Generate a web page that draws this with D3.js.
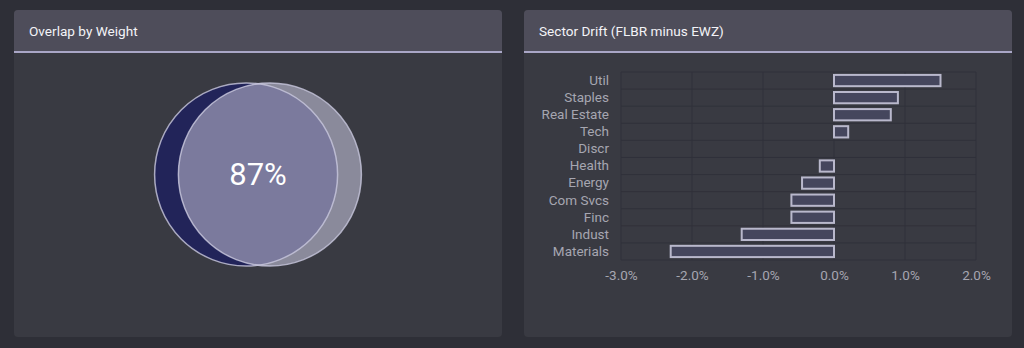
<!DOCTYPE html>
<html>
<head>
<meta charset="utf-8">
<script src="https://cdn.jsdelivr.net/npm/d3@7"></script>
<style>
  html, body { margin: 0; padding: 0; background: #2e2f37; }
  svg { display: block; font-family: Roboto, "Noto Sans", sans-serif; }
</style>
</head>
<body>
<svg id="chart" width="1024" height="348"></svg>
<script>
// panel titles
const titles = ['Overlap by Weight', 'Sector Drift (FLBR minus EWZ)'];

// venn
const overlapShare = [0.87];

// sector drift
const sectors = ['Util', 'Staples', 'Real Estate', 'Tech', 'Discr', 'Health',
  'Energy', 'Com Svcs', 'Finc', 'Indust', 'Materials'];
const drift = [1.5, 0.9, 0.8, 0.2, 0, -0.2, -0.45, -0.6, -0.6, -1.3, -2.3];
const driftTicks = [-3, -2, -1, 0, 1, 2];

const svg = d3.select('#chart');

// panels
const panelX = d3.scaleBand().domain(titles).range([14, 1012]).paddingInner(22 / 510).paddingOuter(0);
const panelW = panelX.bandwidth();
const panelTop = 10, panelH = 327, headH = 42;

titles.forEach(t => {
  const g = svg.append('g').attr('transform', `translate(${panelX(t)},${panelTop})`);
  g.append('rect').attr('width', panelW).attr('height', panelH).attr('rx', 4).attr('fill', '#393a42');
  g.append('path')
    .attr('d', `M0,${headH}V4Q0,0 4,0H${panelW - 4}Q${panelW},0 ${panelW},4V${headH}Z`)
    .attr('fill', '#4e4d5a');
  g.append('rect').attr('y', headH - 1).attr('width', panelW).attr('height', 2).attr('fill', '#a9a6c6');
  g.append('text').attr('x', 15).attr('y', 25.5)
    .attr('fill', '#f3f3f7').attr('font-size', 13.6).text(t);
});

// ---- Venn ----
const vennCx = panelX(titles[0]) + panelW / 2;
const vennCy = 174.5;
const r = 91.5;
const offset = (1 - overlapShare[0]) * r; // half distance between centers
const venn = svg.append('g');
const circles = [
  { cx: vennCx - offset, fill: '#222459' },
  { cx: vennCx + offset, fill: '#8a8a9b' }
];
venn.append('clipPath').attr('id', 'leftClip')
  .append('circle').attr('cx', circles[0].cx).attr('cy', vennCy).attr('r', r);

venn.selectAll('circle.set')
  .data(circles)
  .enter()
  .append('circle')
  .attr('class', 'set')
  .attr('cx', d => d.cx)
  .attr('cy', vennCy)
  .attr('r', r)
  .attr('fill', d => d.fill);

venn.append('circle')
  .attr('cx', circles[1].cx).attr('cy', vennCy).attr('r', r)
  .attr('clip-path', 'url(#leftClip)')
  .attr('fill', '#7b7a9d');

venn.selectAll('circle.edge')
  .data(circles)
  .enter()
  .append('circle')
  .attr('class', 'edge')
  .attr('cx', d => d.cx)
  .attr('cy', vennCy)
  .attr('r', r)
  .attr('fill', 'none')
  .attr('stroke', '#c9c8de')
  .attr('stroke-opacity', 0.8)
  .attr('stroke-width', 1.5);

venn.append('text')
  .attr('x', vennCx).attr('y', vennCy)
  .attr('text-anchor', 'middle').attr('dominant-baseline', 'central')
  .attr('fill', '#ffffff').attr('font-size', 31)
  .text(d3.format('.0%')(overlapShare[0]));

// ---- Sector drift ----
const x = d3.scaleLinear().domain([-3, 2]).range([621, 976]);
const y = d3.scaleBand().domain(sectors).range([72, 260]).paddingInner(0.34).paddingOuter(0.17);
const step = y.step();
const bars = svg.append('g');

// grid
bars.append('g').selectAll('line')
  .data(driftTicks)
  .enter()
  .append('line')
  .attr('x1', d => x(d)).attr('x2', d => x(d))
  .attr('y1', 72).attr('y2', 260)
  .attr('stroke', '#30313a').attr('stroke-width', 1);
bars.append('g').selectAll('line')
  .data(d3.range(sectors.length + 1))
  .enter()
  .append('line')
  .attr('x1', x(-3)).attr('x2', x(2))
  .attr('y1', i => 72 + i * step).attr('y2', i => 72 + i * step)
  .attr('stroke', '#30313a').attr('stroke-width', 1);

// bars
bars.append('g').selectAll('rect')
  .data(sectors.map((s, i) => ({ s, v: drift[i] })).filter(d => d.v !== 0))
  .enter()
  .append('rect')
  .attr('x', d => x(Math.min(0, d.v)))
  .attr('y', d => y(d.s))
  .attr('width', d => Math.abs(x(d.v) - x(0)))
  .attr('height', y.bandwidth())
  .attr('fill', '#45465d')
  .attr('stroke', '#b9b8cc')
  .attr('stroke-width', 2);

// y axis
const yAxis = bars.append('g')
  .attr('transform', `translate(${x(-3) - 12},0)`)
  .call(d3.axisLeft(y).tickSize(0).tickPadding(0));
yAxis.select('.domain').remove();
yAxis.selectAll('text').attr('fill', '#a6a6b1').attr('font-size', 13.5)
  .attr('font-family', 'Roboto, "Noto Sans", sans-serif');

// x axis
const xAxis = bars.append('g')
  .attr('transform', 'translate(0,270)')
  .call(d3.axisBottom(x).tickValues(driftTicks).tickSize(0).tickPadding(0)
    .tickFormat(d => d.toFixed(1) + '%'));
xAxis.select('.domain').remove();
xAxis.selectAll('text').attr('fill', '#a6a6b1').attr('font-size', 13.5)
  .attr('font-family', 'Roboto, "Noto Sans", sans-serif');
</script>
</body>
</html>
